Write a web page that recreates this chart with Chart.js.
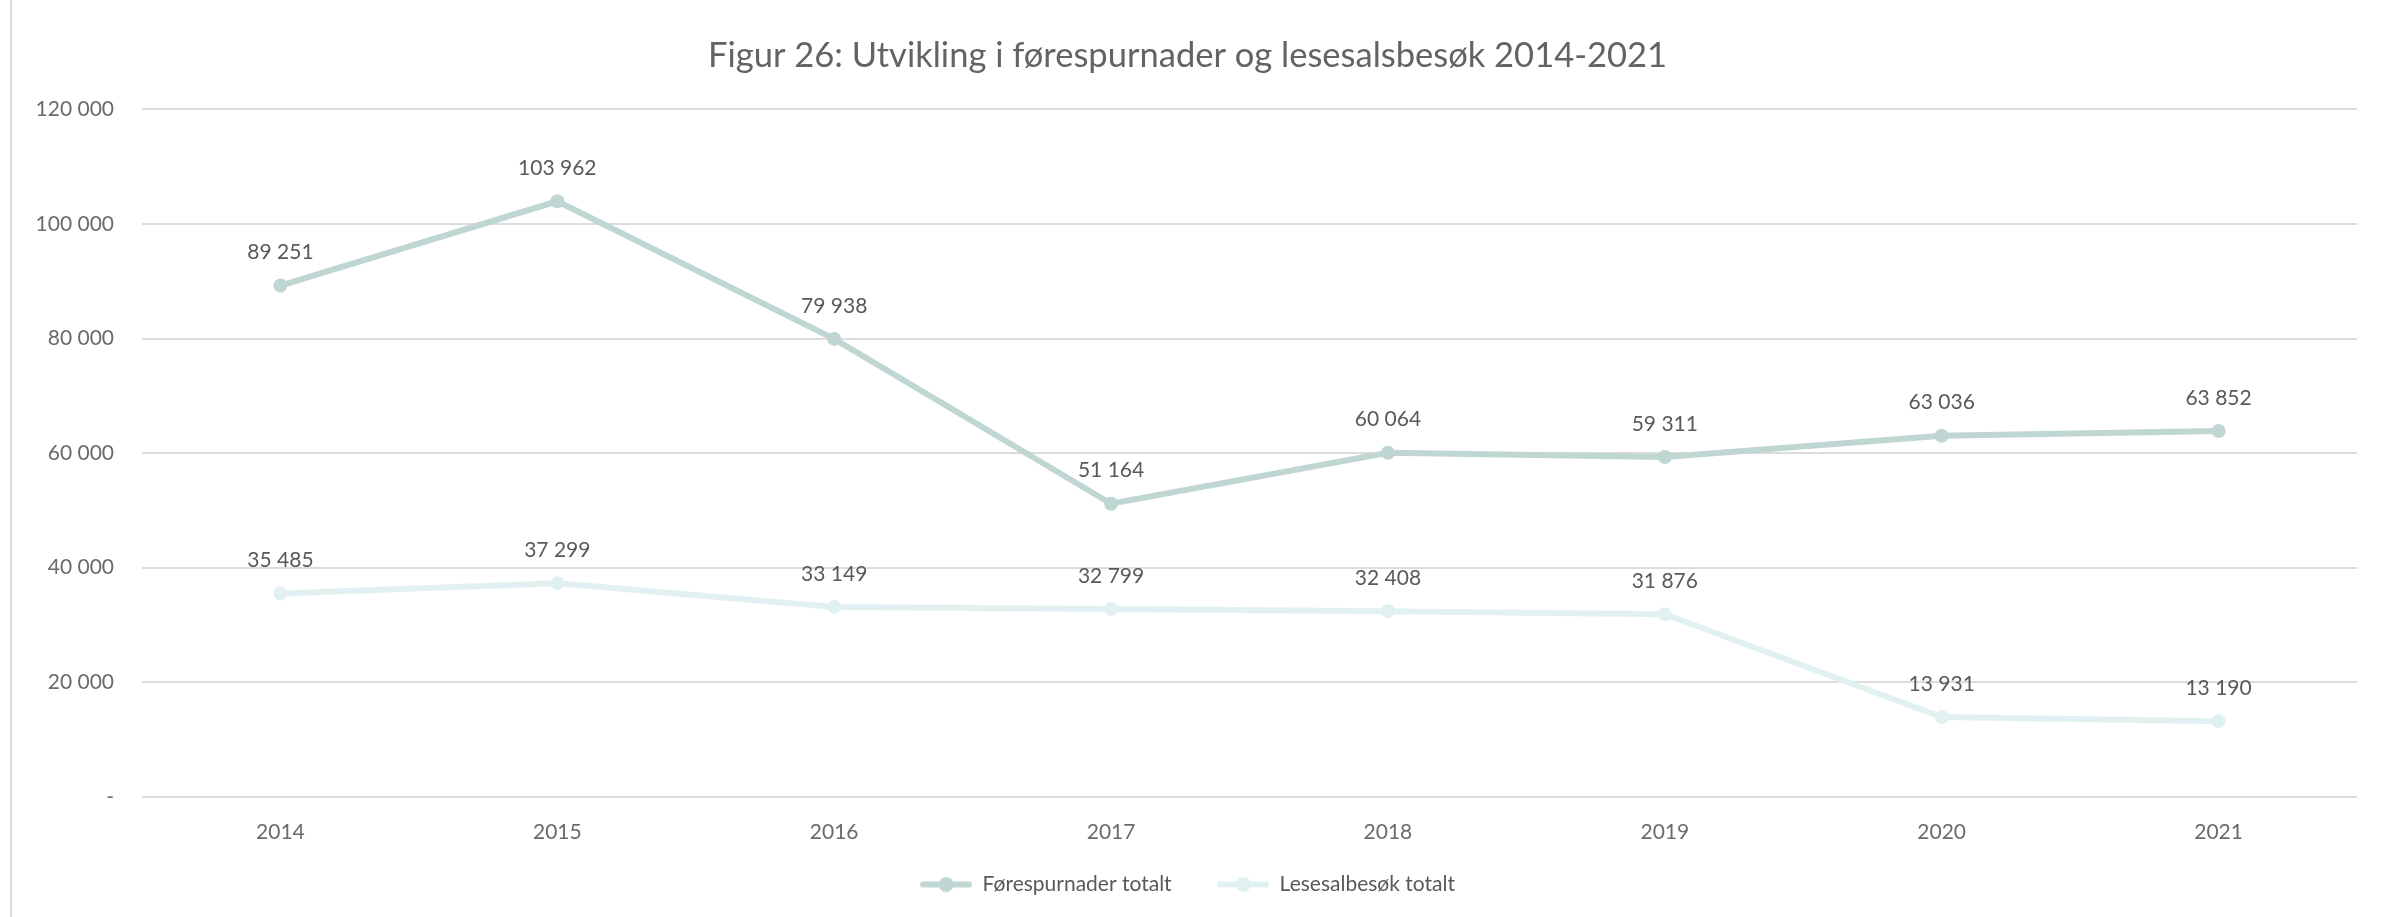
<!DOCTYPE html>
<html>
<head>
<meta charset="utf-8">
<script src="https://cdn.jsdelivr.net/npm/chart.js@4/dist/chart.umd.min.js"></script>
<style>
  html, body { margin: 0; padding: 0; background: #fff; }
  #wrap { position: relative; height: 917px; box-sizing: border-box; border-left: 2px solid #d9d9d9; margin-left: 10px; width: 2377px; }
</style>
</head>
<body>
<div id="wrap"><canvas id="myChart"></canvas></div>
<script>
const years = ['2014', '2015', '2016', '2017', '2018', '2019', '2020', '2021'];
const forespurnader = [89251, 103962, 79938, 51164, 60064, 59311, 63036, 63852];
const lesesal = [35485, 37299, 33149, 32799, 32408, 31876, 13931, 13190];
const seriesNames = ['Førespurnader totalt', 'Lesesalbesøk totalt'];
const titleText = 'Figur 26: Utvikling i førespurnader og lesesalsbesøk 2014-2021';

const FONT = 'Lato, "Open Sans", sans-serif';

function fmt(v) {
  if (v === 0) return '-';
  return String(v).replace(/\B(?=(\d{3})+(?!\d))/g, ' ');
}

// little legend marker: line with a dot in the middle
function marker(color) {
  const c = document.createElement('canvas');
  c.width = 52; c.height = 16;
  const g = c.getContext('2d');
  g.strokeStyle = color; g.lineWidth = 6; g.lineCap = 'round';
  g.beginPath(); g.moveTo(3, 8); g.lineTo(49, 8); g.stroke();
  g.fillStyle = color;
  g.beginPath(); g.arc(26, 8, 7.5, 0, Math.PI * 2); g.fill();
  return c;
}

// value labels over each point
const valueLabels = {
  id: 'valueLabels',
  afterDatasetsDraw(chart) {
    const ctx = chart.ctx;
    ctx.save();
    ctx.font = '21px ' + FONT;
    ctx.fillStyle = '#595959';
    ctx.textAlign = 'center';
    ctx.textBaseline = 'middle';
    chart.data.datasets.forEach((ds, i) => {
      chart.getDatasetMeta(i).data.forEach((pt, j) => {
        ctx.fillText(fmt(ds.data[j]), pt.x, pt.y - 33);
      });
    });
    ctx.restore();
  }
};

const colors = ['#BFD6D3', '#E1F1F1'];

var ctx = document.getElementById('myChart').getContext('2d');
var myChart = new Chart(ctx, {
  type: 'line',
  data: {
    labels: years,
    datasets: [
      { label: seriesNames[0], data: forespurnader, borderColor: colors[0], backgroundColor: colors[0] },
      { label: seriesNames[1], data: lesesal, borderColor: colors[1], backgroundColor: colors[1] }
    ].map(d => Object.assign(d, {
      borderWidth: 6, pointRadius: 7, pointHoverRadius: 7, pointBorderWidth: 0,
      pointBackgroundColor: d.borderColor, tension: 0
    }))
  },
  options: {
    responsive: true,
    maintainAspectRatio: false,
    animation: false,
    layout: { padding: { left: 6, right: 30, top: 35, bottom: 12 } },
    plugins: {
      title: {
        display: true, text: titleText, color: '#636363',
        font: { family: FONT, size: 34.5, weight: 'normal' }, padding: { top: 0, bottom: 33 }
      },
      legend: {
        position: 'bottom',
        labels: {
          usePointStyle: true, pointStyleWidth: 52,
          color: '#595959', font: { family: FONT, size: 21 }, padding: 14,
          // trailing spaces widen the gap between the two entries
          generateLabels: chart => chart.data.datasets.map((d, i) => ({
            text: i === 0 ? d.label + '\u2002\u2002\u2002' : d.label,
            pointStyle: marker(colors[i]), fontColor: '#595959',
            strokeStyle: colors[i], fillStyle: colors[i], lineWidth: 0, datasetIndex: i
          }))
        }
      },
      tooltip: { enabled: false }
    },
    scales: {
      x: {
        offset: true,
        grid: { display: false },
        border: { display: false },
        ticks: { color: '#6b6b6b', font: { family: FONT, size: 21 }, padding: 15 }
      },
      y: {
        min: 0, max: 120000,
        border: { display: false },
        grid: { color: '#dcdcdc', lineWidth: 2, drawTicks: false },
        afterFit: s => { s.width = 124; },
        ticks: {
          stepSize: 20000, color: '#6b6b6b', font: { family: FONT, size: 21 }, padding: 28,
          callback: v => fmt(v)
        }
      }
    }
  },
  plugins: [valueLabels]
});
</script>
</body>
</html>
